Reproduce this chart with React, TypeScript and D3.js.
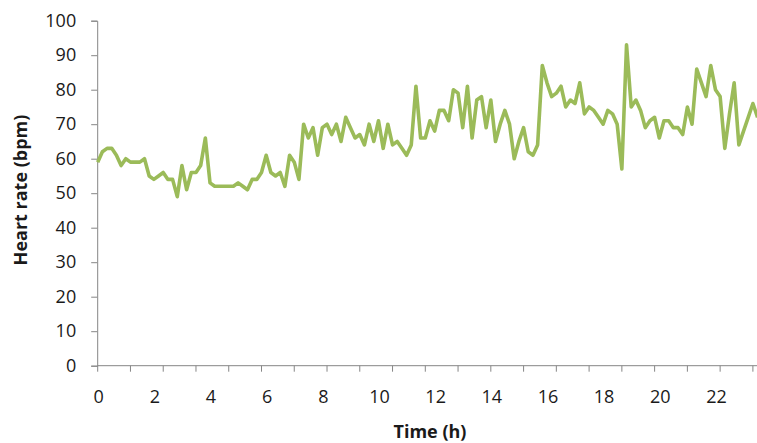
import { useEffect, useRef } from 'react';
import * as d3 from 'd3';

// heart rate samples, one every 10 minutes from midnight
const sampleMinutes = 10;
const heartRate = [
  59, 62, 63, 63, 61, 58, 60, 59, 59, 59, 60, 55, 54, 55, 56, 54, 54, 49, 58, 51,
  56, 56, 58, 66, 53, 52, 52, 52, 52, 52, 53, 52, 51, 54, 54, 56, 61, 56, 55, 56,
  52, 61, 59, 54, 70, 66, 69, 61, 69, 70, 67, 70, 65, 72, 69, 66, 67, 64, 70, 65,
  71, 63, 70, 64, 65, 63, 61, 64, 81, 66, 66, 71, 68, 74, 74, 71, 80, 79, 69, 81,
  66, 77, 78, 69, 77, 65, 70, 74, 70, 60, 65, 69, 62, 61, 64, 87, 82, 78, 79, 81,
  75, 77, 76, 82, 73, 75, 74, 72, 70, 74, 73, 70, 57, 93, 75, 77, 74, 69, 71, 72,
  66, 71, 71, 69, 69, 67, 75, 70, 86, 82, 78, 87, 80, 78, 63, 73, 82, 64, 68, 72,
  76, 72,
];
const xTickLabels = [0, 2, 4, 6, 8, 10, 12, 14, 16, 18, 20, 22];
const yTickLabels = [0, 10, 20, 30, 40, 50, 60, 70, 80, 90, 100];
const tickEverySamples = 7;

const App = () => {
  const svgRef = useRef<SVGSVGElement | null>(null);

  const width = 757;
  const height = 443;
  const marginTop = 20.7;
  const marginLeft = 97.7;
  const plotBottom = 365.7;
  const pxPerSample = 4.68;

  useEffect(() => {
    document.body.style.margin = '0';
    const svgElement = svgRef.current;
    if (!svgElement) return;

    const svg = d3.select(svgElement);
    svg.selectAll('*').remove();

    const data = heartRate.map((v, i) => ({ t: (i * sampleMinutes) / 60, v }));
    const tMax = ((heartRate.length - 1) * sampleMinutes) / 60;

    const x = d3.scaleLinear()
      .domain([0, tMax])
      .range([marginLeft, marginLeft + (heartRate.length - 1) * pxPerSample]);
    const y = d3.scaleLinear().domain([0, 100]).range([plotBottom, marginTop]);

    const font = "'Open Sans', sans-serif";
    const axisColor = '#868686';

    // x axis: ticks every 7 samples, labels every 2 hours
    const tickTimes = d3.range(0, heartRate.length, tickEverySamples).map(i => (i * sampleMinutes) / 60);
    const gx = svg.append('g');
    gx.append('line')
      .attr('x1', x(0)).attr('x2', width)
      .attr('y1', plotBottom).attr('y2', plotBottom)
      .attr('stroke', axisColor);
    gx.selectAll('line.tick')
      .data(tickTimes)
      .join('line')
      .attr('class', 'tick')
      .attr('x1', d => x(d)).attr('x2', d => x(d))
      .attr('y1', plotBottom).attr('y2', plotBottom + 6)
      .attr('stroke', axisColor);
    gx.selectAll('text')
      .data(xTickLabels)
      .join('text')
      .attr('x', d => x(d) + 1)
      .attr('y', 402.5)
      .attr('text-anchor', 'middle')
      .attr('font-family', font)
      .attr('font-size', 18)
      .attr('fill', '#1a1a1a')
      .text(d => d);

    // y axis
    const gy = svg.append('g').attr('transform', `translate(${marginLeft - 0.5},0)`);
    gy.call(d3.axisLeft(y).tickValues(yTickLabels).tickSize(6).tickPadding(15));
    gy.select('.domain').attr('stroke', axisColor);
    gy.selectAll('.tick line').attr('stroke', axisColor);
    gy.selectAll('.tick text')
      .attr('font-family', font)
      .attr('font-size', 18)
      .attr('fill', '#1a1a1a');

    // the series
    const line = d3.line<{ t: number; v: number }>()
      .x(d => x(d.t))
      .y(d => y(d.v));

    svg.append('path')
      .datum(data)
      .attr('fill', 'none')
      .attr('stroke', '#9bbb59')
      .attr('stroke-width', 3.6)
      .attr('stroke-linejoin', 'round')
      .attr('d', line);

    // axis titles
    svg.append('text')
      .attr('x', 430)
      .attr('y', 438)
      .attr('text-anchor', 'middle')
      .attr('font-family', font)
      .attr('font-size', 18)
      .attr('font-weight', 'bold')
      .attr('fill', '#1a1a1a')
      .text('Time (h)');

    svg.append('text')
      .attr('transform', 'translate(27,190) rotate(-90)')
      .attr('text-anchor', 'middle')
      .attr('font-family', font)
      .attr('font-size', 18)
      .attr('font-weight', 'bold')
      .attr('fill', '#1a1a1a')
      .text('Heart rate (bpm)');
  }, []);

  return (
    <svg ref={svgRef} width={width} height={height} style={{ display: 'block' }} />
  );
};

export default App;
